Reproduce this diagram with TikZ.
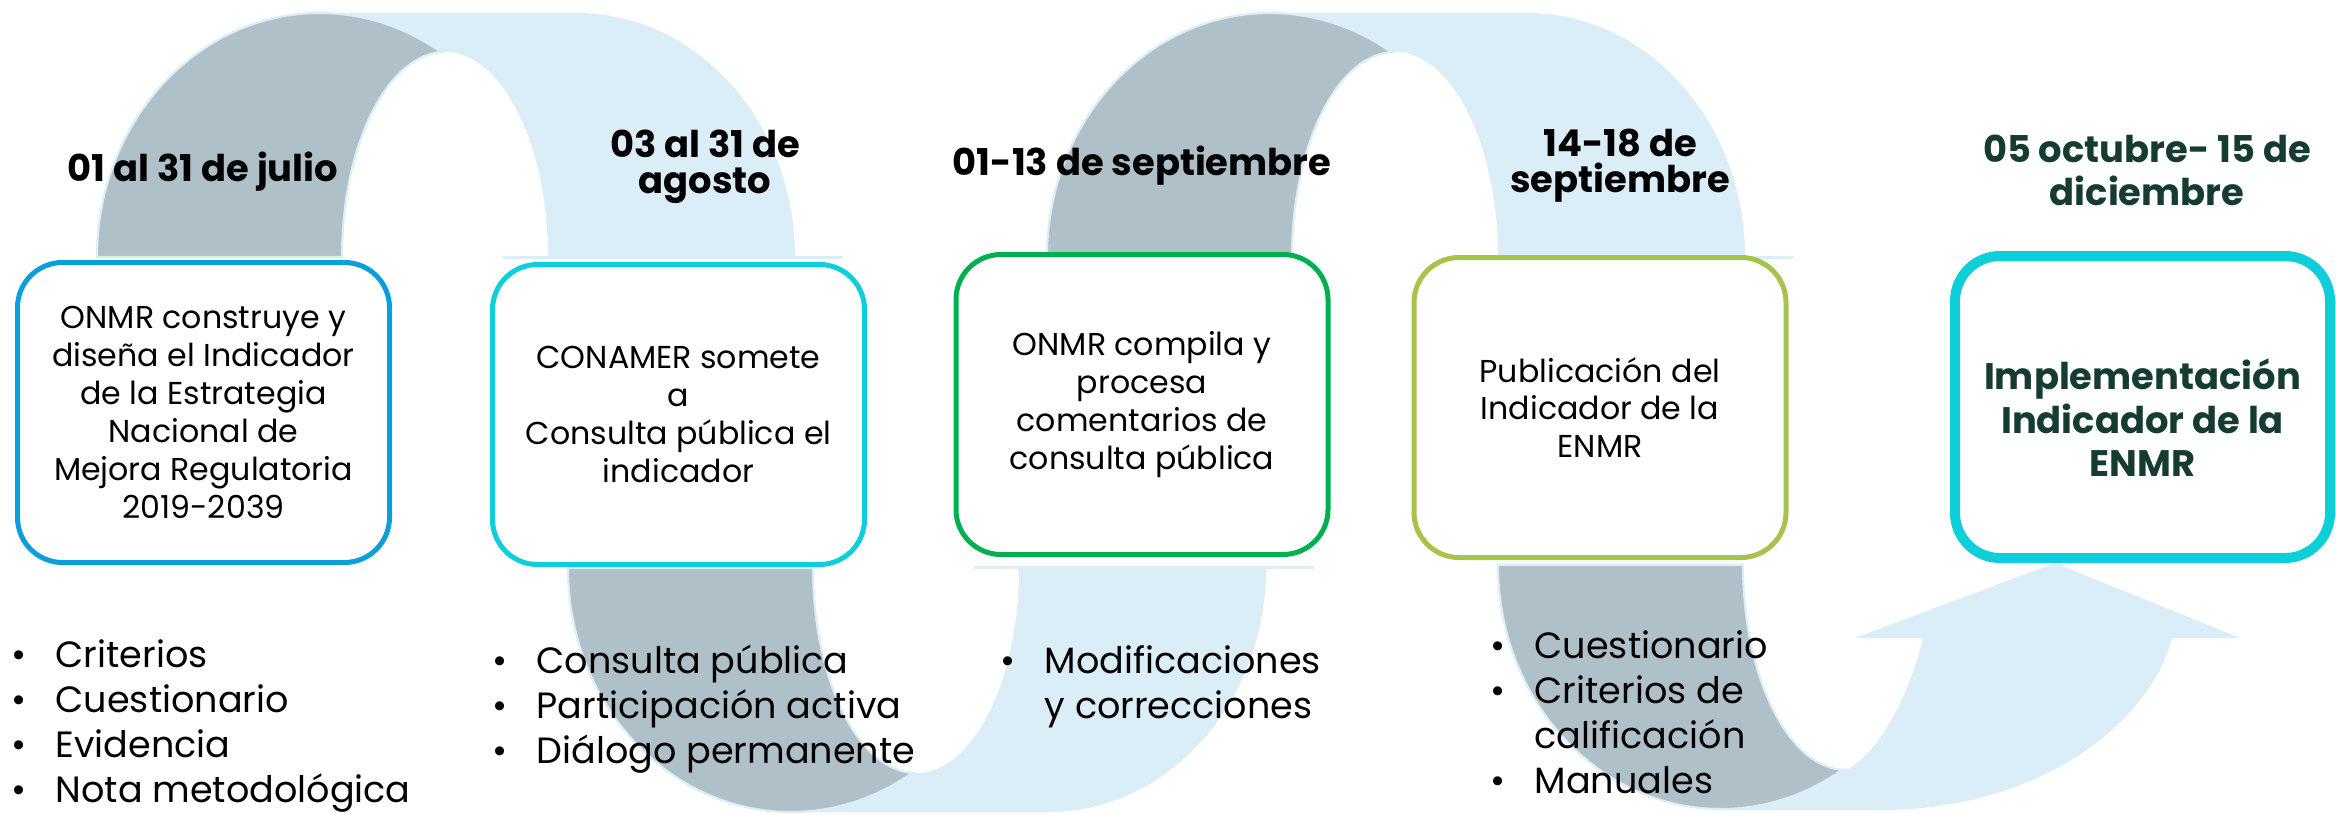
\documentclass[tikz,border=0pt]{standalone}
\usepackage{fontspec}
\setmainfont{Poppins}
\usepackage{tikz}
\usetikzlibrary{calc}

\definecolor{bandgrey}{RGB}{175,192,201}
\definecolor{bandblue}{RGB}{219,237,247}
\definecolor{boxblue}{RGB}{10,159,218}
\definecolor{boxcyan}{RGB}{14,206,218}
\definecolor{boxgreen}{RGB}{0,176,80}
\definecolor{boxlime}{RGB}{166,196,74}
\definecolor{darkgreen}{RGB}{22,59,50}

\newcommand{\dotitem}{\makebox[0.44cm][l]{\textbullet}}

\tikzset{
  grey band/.style={fill=bandgrey, draw=bandblue, line width=0.6pt},
  blue band/.style={fill=bandblue},
  stage/.style={draw, fill=white, line width=0.05cm, rounded corners=0.45cm,
    minimum width=3.72cm, minimum height=3cm, align=center, inner sep=2pt,
    font=\fontsize{9}{10.8}\selectfont},
  date/.style={align=center, anchor=base, inner sep=0pt,
    font=\bfseries\fontsize{10.5}{10.2}\selectfont},
  items/.style={align=left, anchor=base west, inner sep=0pt,
    font=\fontsize{10.4}{12.8}\selectfont}
}

\begin{document}
\begin{tikzpicture}
\useasboundingbox (0,0) rectangle (23.36,8.13);

% arch from the first box to the second one
\fill [blue band] (3.20,8.00) -- (5.77,8.00) arc [start angle=90, end angle=0, x radius=2.18, y radius=2.44] -- (5.48,5.56) arc [start angle=0, end angle=90, x radius=1.03, y radius=2.05] -- cycle;
\fill [blue band] (5.03,5.54) rectangle (8.43,5.57);
\filldraw [grey band] (0.97,5.56) arc [start angle=180, end angle=57, x radius=2.23, y radius=2.44] -- (4.45,7.61) arc [start angle=90, end angle=180, x radius=1.03, y radius=2.05] -- cycle;

% same arch, third box to fourth
\begin{scope}[xshift=9.5cm]
\fill [blue band] (3.20,8.00) -- (5.77,8.00) arc [start angle=90, end angle=0, x radius=2.18, y radius=2.44] -- (5.48,5.56) arc [start angle=0, end angle=90, x radius=1.03, y radius=2.05] -- cycle;
\fill [blue band] (5.03,5.54) rectangle (8.43,5.57);
\filldraw [grey band] (0.97,5.56) arc [start angle=180, end angle=57, x radius=2.23, y radius=2.44] -- (4.45,7.61) arc [start angle=90, end angle=180, x radius=1.03, y radius=2.05] -- cycle;
\end{scope}

% upside down: second box to third
\begin{scope}[shift={(4.71,8.01)}, yscale=-1]
\fill [blue band] (3.20,8.00) -- (5.77,8.00) arc [start angle=90, end angle=0, x radius=2.18, y radius=2.44] -- (5.48,5.56) arc [start angle=0, end angle=90, x radius=1.03, y radius=2.05] -- cycle;
\fill [blue band] (5.03,5.54) rectangle (8.43,5.57);
\filldraw [grey band] (0.97,5.56) arc [start angle=180, end angle=57, x radius=2.23, y radius=2.44] -- (4.45,7.61) arc [start angle=90, end angle=180, x radius=1.03, y radius=2.05] -- cycle;
\end{scope}

% last one ends in the arrow head
\fill [blue band] (17.21,0.03) -- (18.8,0.03) .. controls (20.4,0.03) and (21.5,0.9) .. (21.72,1.75) -- (22.40,1.75) -- (20.55,2.50) -- (18.55,1.75) -- (19.23,1.75) .. controls (19.1,1.2) and (18.8,0.6) .. (18.46,0.43) -- cycle;
\begin{scope}[shift={(14.01,8.04)}, yscale=-1]
\filldraw [grey band] (0.97,5.56) arc [start angle=180, end angle=57, x radius=2.23, y radius=2.44] -- (4.45,7.61) arc [start angle=90, end angle=180, x radius=1.03, y radius=2.05] -- cycle;
\end{scope}

% % % % % % % % % % % % % % % % % % % % % % % % % %

\node [stage, draw=boxblue] (onmr) at (2.035,4.005) {ONMR construye y\\diseña el Indicador\\de la Estrategia\\Nacional de\\Mejora Regulatoria\\2019-2039};
\node [stage, draw=boxcyan] (conamer) at (6.785,3.985) {CONAMER somete\\a\\Consulta pública el\\indicador};
\node [stage, draw=boxgreen] (compila) at (11.42,4.085) {ONMR compila y\\procesa\\comentarios de\\consulta pública};
\node [stage, draw=boxlime] (publica) at (16.00,4.055) {Publicación del\\Indicador de la\\ENMR};
\node [stage, draw=boxcyan, line width=0.1cm, minimum width=3.75cm, minimum height=3.02cm, text=darkgreen, font=\bfseries\fontsize{10.5}{12.5}\selectfont] (implementa) at (21.425,4.06) {\rule{0pt}{0.52cm}Implementación\\Indicador de la\\ENMR};

% base of a node with two lines = its last line
\node [date] (julio) at (2.03,6.32) {01 al 31 de julio};
\node [date] (agosto) at (7.05,6.20) {03 al 31 de\\agosto};
\node [date] (sept) at (11.42,6.38) {01-13 de septiembre};
\node [date] (sept2) at (16.20,6.21) {14-18 de\\septiembre};
\node [date, text=darkgreen, font=\bfseries\fontsize{10.5}{12.2}\selectfont] (dic) at (21.47,6.08) {05 octubre- 15 de\\diciembre};

\node [items] (lista1) at (0.11,0.11) {\dotitem Criterios\\\dotitem Cuestionario\\\dotitem Evidencia\\\dotitem Nota metodológica};
\node [items] (lista2) at (4.92,0.50) {\dotitem Consulta pública\\\dotitem Participación activa\\\dotitem Diálogo permanente};
\node [items] (lista3) at (10.00,0.95) {\dotitem Modificaciones\\\hspace*{0.44cm}y correcciones};
\node [items] (lista4) at (14.90,0.20) {\dotitem Cuestionario\\\dotitem Criterios de\\\hspace*{0.44cm}calificación\\\dotitem Manuales};
\end{tikzpicture}
\end{document}
